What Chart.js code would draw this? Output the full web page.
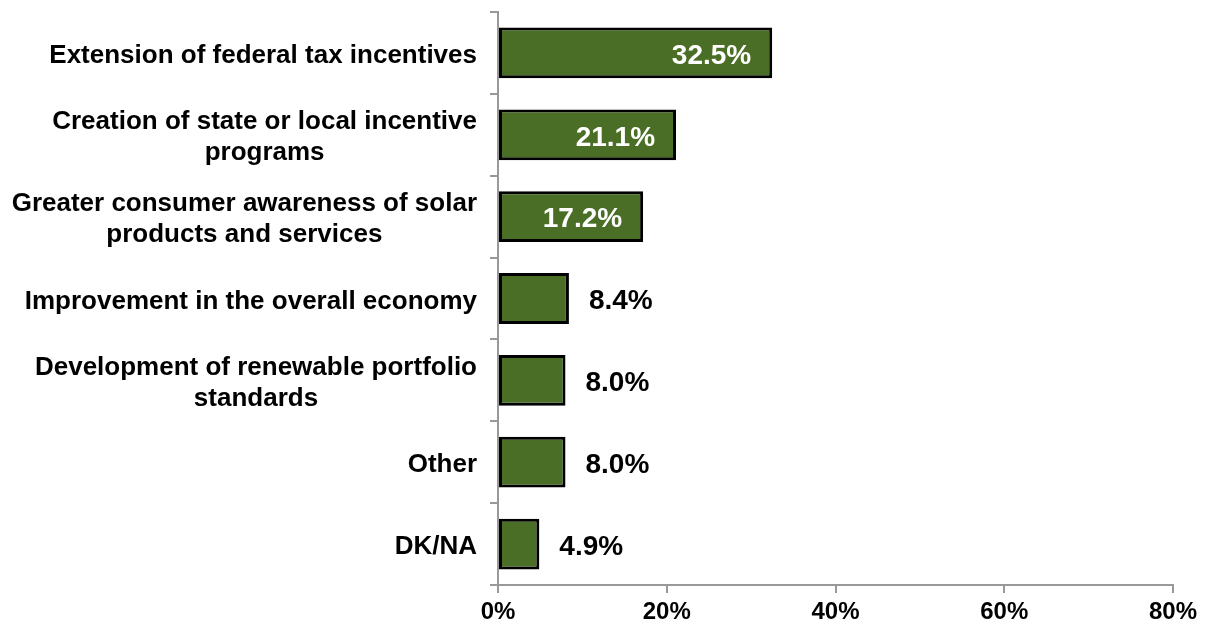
<!DOCTYPE html>
<html>
<head>
<meta charset="utf-8">
<script src="https://cdn.jsdelivr.net/npm/chart.js@4.4.0/dist/chart.umd.min.js"></script>
<style>
  html, body { margin: 0; padding: 0; background: #fff; }
  #wrap { width: 1208px; height: 626px; }
</style>
</head>
<body>
<div id="wrap"><canvas id="grafico"></canvas></div>
<script>
// ── Datos ──
const categorias = [
  'Extension of federal tax incentives',
  ['Creation of state or local incentive', 'programs'],
  ['Greater consumer awareness of solar', 'products and services'],
  'Improvement in the overall economy',
  ['Development of renewable portfolio', 'standards'],
  'Other',
  'DK/NA'
];
const valores = [32.5, 21.1, 17.2, 8.4, 8.0, 8.0, 4.9];
const ticksX = [0, 20, 40, 60, 80];

const FUENTE = "'Liberation Sans', Arial, sans-serif";

// ── Etiquetas de valor (dentro en blanco si la barra es larga) ──
const etiquetasValor = {
  id: 'etiquetasValor',
  afterDatasetsDraw(chart) {
    const { ctx } = chart;
    const meta = chart.getDatasetMeta(0);
    ctx.save();
    ctx.font = 'bold 28px ' + FUENTE;
    ctx.textBaseline = 'middle';
    meta.data.forEach((bar, i) => {
      const v = valores[i];
      const txt = v.toFixed(1) + '%';
      if (v > 10) {
        ctx.fillStyle = '#ffffff';
        ctx.textAlign = 'right';
        ctx.fillText(txt, bar.x - 21, bar.y + 3);
      } else {
        ctx.fillStyle = '#000000';
        ctx.textAlign = 'left';
        ctx.fillText(txt, bar.x + 20, bar.y + 3);
      }
    });
    ctx.restore();
  }
};

// ── Categorías: bloque alineado a la derecha, líneas centradas entre sí ──
const etiquetasCategoria = {
  id: 'etiquetasCategoria',
  afterDraw(chart) {
    const { ctx } = chart;
    const escala = chart.scales.y;
    const derecha = escala.right - 8 - 13;
    const alto = 31;
    ctx.save();
    ctx.font = 'bold 26px ' + FUENTE;
    ctx.fillStyle = '#000';
    ctx.textAlign = 'center';
    ctx.textBaseline = 'middle';
    categorias.forEach((cat, i) => {
      const lineas = Array.isArray(cat) ? cat : [cat];
      const ancho = Math.max(...lineas.map(l => ctx.measureText(l).width));
      const cx = derecha - ancho / 2;
      const yc = escala.getPixelForTick(i) + 3;
      const y0 = yc - (lineas.length - 1) * alto / 2;
      lineas.forEach((l, j) => ctx.fillText(l, cx, y0 + j * alto));
    });
    ctx.restore();
  }
};

new Chart(document.getElementById('grafico'), {
  type: 'bar',
  data: {
    labels: categorias,
    datasets: [{
      data: valores,
      backgroundColor: '#4a6e26',
      borderColor: '#000000',
      borderWidth: 3,
      borderSkipped: false,
      categoryPercentage: 1,
      barPercentage: 0.62
    }]
  },
  options: {
    indexAxis: 'y',
    responsive: true,
    maintainAspectRatio: false,
    animation: false,
    layout: { padding: { top: 12, right: 35, left: 0, bottom: 0 } },
    plugins: {
      legend: { display: false },
      tooltip: { enabled: false }
    },
    scales: {
      x: {
        min: 0,
        max: 80,
        afterBuildTicks: (scale) => { scale.ticks = ticksX.map(v => ({ value: v })); },
        afterFit: (scale) => { scale.height = 41; scale.paddingLeft = 0; scale.paddingRight = 0; },
        border: { color: '#999999', width: 2 },
        grid: { drawOnChartArea: false, color: '#999999', lineWidth: 2, tickLength: 8 },
        ticks: {
          color: '#000',
          padding: 5,
          maxRotation: 0,
          font: { family: FUENTE, size: 24, weight: 'bold' },
          callback: (v) => v + '%'
        }
      },
      y: {
        afterFit: (scale) => { scale.width = 498; scale.paddingTop = 0; scale.paddingBottom = 0; },
        border: { color: '#999999', width: 2 },
        grid: { drawOnChartArea: false, color: '#999999', lineWidth: 2, tickLength: 8, offset: true },
        ticks: {
          color: 'rgba(0,0,0,0)',
          padding: 13,
          font: { family: FUENTE, size: 26, weight: 'bold', lineHeight: 1.2 }
        }
      }
    }
  },
  plugins: [etiquetasValor, etiquetasCategoria]
});
</script>
</body>
</html>
